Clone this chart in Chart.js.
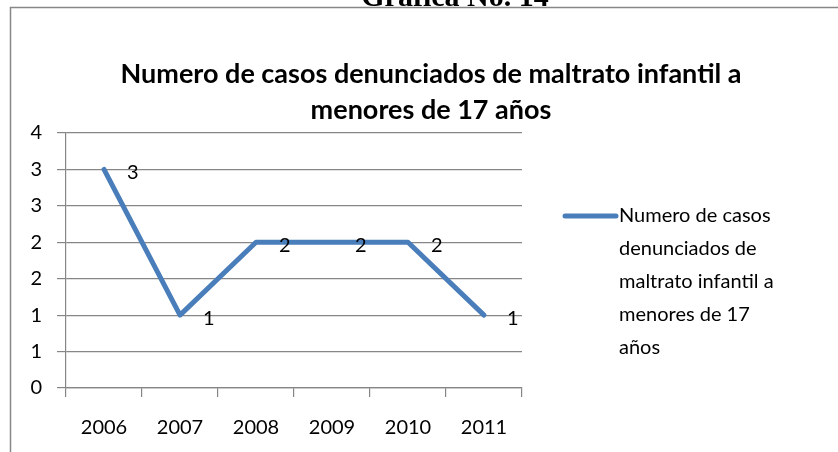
<!DOCTYPE html>
<html>
<head>
<meta charset="utf-8">
<script src="https://cdn.jsdelivr.net/npm/chart.js@4"></script>
<style>
  html, body { margin: 0; padding: 0; background: #ffffff; }
  #wrap { width: 838px; height: 452px; }
</style>
</head>
<body>
<div id="wrap"><canvas id="c" width="838" height="452"></canvas></div>
<script>
// Casos denunciados por año
const years = ['2006', '2007', '2008', '2009', '2010', '2011'];
const casos = [3, 1, 2, 2, 2, 1];
const seriesName = 'Numero de casos denunciados de maltrato infantil a menores de 17 años';
const titleLines = ['Numero de casos denunciados de maltrato infantil a', 'menores de 17 años'];
const legendLines = ['Numero de casos', 'denunciados de', 'maltrato infantil a', 'menores de 17', 'años'];
const pageHeading = 'Gráfica No. 14';

const LINE_BLUE = '#4A7EBB';
const AXIS_GRAY = '#868686';
const FONT = 'Lato';

// page heading (mostly cut off above) and the chart frame
const framePlugin = {
  id: 'frame',
  beforeDraw(chart) {
    const ctx = chart.ctx;
    ctx.save();
    ctx.fillStyle = '#ffffff';
    ctx.fillRect(0, 0, chart.width, chart.height);
    ctx.fillStyle = '#000000';
    ctx.font = 'bold 30px "Liberation Serif"';
    ctx.textAlign = 'center';
    ctx.textBaseline = 'alphabetic';
    ctx.fillText(pageHeading, 455, 6);
    ctx.fillStyle = '#ffffff';
    ctx.fillRect(0, 8, chart.width, chart.height);
    ctx.strokeStyle = '#878787';
    ctx.lineWidth = 1.5;
    ctx.beginPath();
    ctx.moveTo(10.5, chart.height);
    ctx.lineTo(10.5, 7.5);
    ctx.lineTo(chart.width, 7.5);
    ctx.stroke();
    ctx.restore();
  }
};

// two-line bold title
const titlePlugin = {
  id: 'twoLineTitle',
  afterDraw(chart) {
    const ctx = chart.ctx;
    ctx.save();
    ctx.fillStyle = '#000000';
    ctx.font = 'bold 27px ' + FONT;
    ctx.textAlign = 'center';
    ctx.textBaseline = 'middle';
    titleLines.forEach((t, i) => ctx.fillText(t, 431, 74 + i * 36));
    ctx.restore();
  }
};

// value labels to the right of each point
const valueLabels = {
  id: 'valueLabels',
  afterDatasetsDraw(chart) {
    const ctx = chart.ctx;
    const meta = chart.getDatasetMeta(0);
    ctx.save();
    ctx.fillStyle = '#000000';
    ctx.font = '20px ' + FONT;
    ctx.textAlign = 'left';
    ctx.textBaseline = 'middle';
    meta.data.forEach((pt, i) => {
      ctx.fillText(String(chart.data.datasets[0].data[i]), pt.x + 23, pt.y + 3);
    });
    ctx.restore();
  }
};

// legend on the right with wrapped series name
const sideLegend = {
  id: 'sideLegend',
  afterDraw(chart) {
    const ctx = chart.ctx;
    const top = 216, step = 33;
    ctx.save();
    ctx.strokeStyle = LINE_BLUE;
    ctx.lineWidth = 5;
    ctx.lineCap = 'round';
    ctx.beginPath();
    ctx.moveTo(565, top);
    ctx.lineTo(616, top);
    ctx.stroke();
    ctx.fillStyle = '#000000';
    ctx.font = '20px ' + FONT;
    ctx.textAlign = 'left';
    ctx.textBaseline = 'middle';
    legendLines.forEach((t, i) => ctx.fillText(t, 619, top + i * step));
    ctx.restore();
  }
};

new Chart(document.getElementById('c'), {
  type: 'line',
  data: {
    labels: years,
    datasets: [{
      label: seriesName,
      data: casos,
      borderColor: LINE_BLUE,
      backgroundColor: LINE_BLUE,
      borderWidth: 5,
      borderCapStyle: 'round',
      borderJoinStyle: 'round',
      pointRadius: 0,
      tension: 0,
      fill: false
    }]
  },
  options: {
    responsive: false,
    animation: false,
    layout: { padding: { left: 0, top: 133, right: 316, bottom: 0 } },
    plugins: {
      legend: { display: false },
      title: { display: false },
      tooltip: { enabled: false }
    },
    scales: {
      x: {
        offset: true,
        grid: { offset: true, drawOnChartArea: false, color: AXIS_GRAY, lineWidth: 1.2, tickLength: 9 },
        border: { display: true, color: AXIS_GRAY, width: 1.2 },
        ticks: { color: '#000000', font: { family: FONT, size: 20 }, padding: 19, maxRotation: 0 },
        afterFit(scale) { scale.height = 64; }
      },
      y: {
        min: 0,
        max: 3.5,
        grid: { color: AXIS_GRAY, lineWidth: 1.2, tickLength: 9 },
        border: { display: true, color: AXIS_GRAY, width: 1.2 },
        ticks: {
          stepSize: 0.5,
          color: '#000000',
          font: { family: FONT, size: 20 },
          padding: 15,
          callback: (v) => String(Math.round(v))
        },
        afterFit(scale) { scale.width = 66; }
      }
    }
  },
  plugins: [framePlugin, titlePlugin, valueLabels, sideLegend]
});
</script>
</body>
</html>
